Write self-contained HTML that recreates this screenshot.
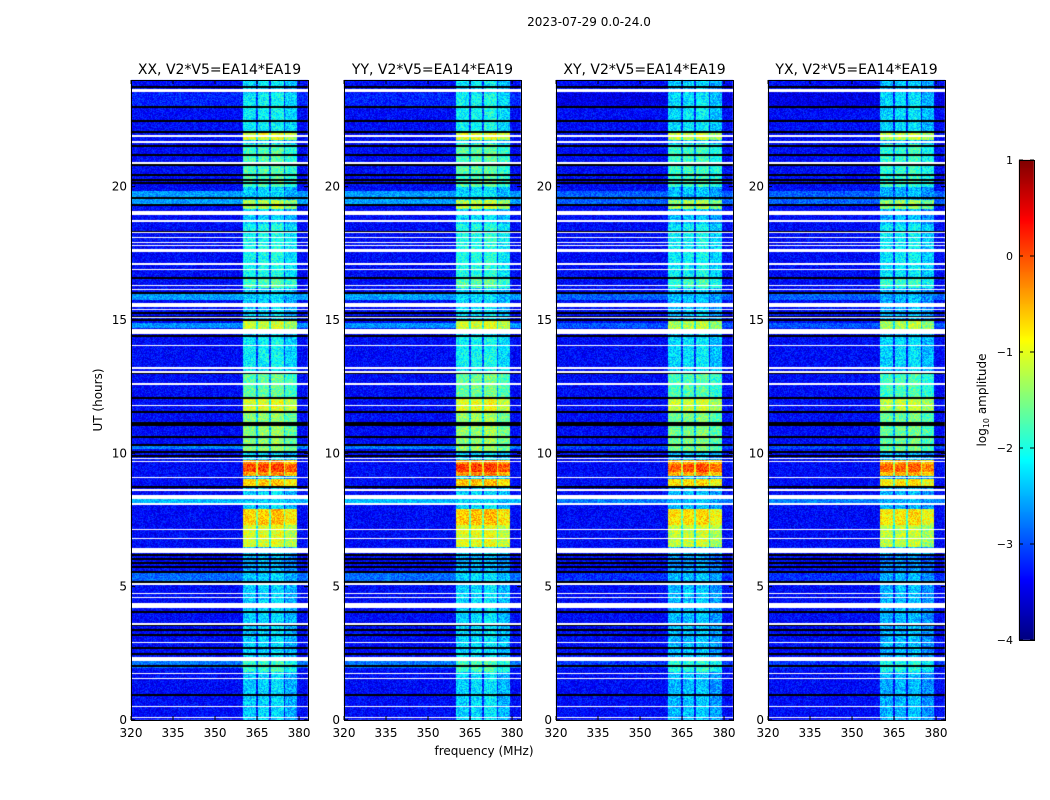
<!DOCTYPE html>
<html><head><meta charset="utf-8">
<style>
body{margin:0;background:#fff;}
#wrap{position:relative;width:1050px;height:800px;background:#fff;font-family:"DejaVu Sans","Liberation Sans",sans-serif;}
canvas,svg{position:absolute;left:0;top:0;}
</style></head>
<body>
<div id="wrap">
<canvas id="cv" width="1050" height="800"></canvas>
<svg id="ov" width="1050" height="800"></svg>
</div>
<script>
// ---- data ----
const panelTitles = ["XX, V2*V5=EA14*EA19","YY, V2*V5=EA14*EA19","XY, V2*V5=EA14*EA19","YX, V2*V5=EA14*EA19"];
const panelBandOffset = [0, 0.05, -0.1, -0.15];
const panelBgStripeOffset = [0, 0, -0.3, -0.3];
const xTicks = [320,335,350,365,380];
const yTicks = [0,5,10,15,20];
const cbTicks = [1,0,-1,-2,-3,-4];
const channels = [[360,364.6],[365.2,369.4],[369.9,374.5],[374.9,379.4]];
const channelGain = [0, 0.05, 0.1, -0.15];
const bgDefault = -3.3;
const bgSegments = [[23.0,23.5,-3.15],[19.3,19.85,-2.55],[15.75,16.0,-2.55],[14.7,14.9,-2.6],[10.15,10.3,-2.7],[8.1,8.3,-2.4],[5.2,5.5,-2.8],[1.95,2.2,-2.75]];
const bandDefault = -2.3;
const bandSegments = [[23.7,24,-2.2],[22.0,23.5,-2.1],[21.75,22.0,-1.0],[20.0,21.6,-1.7],[19.15,19.5,-1.2],[16.3,18.6,-2.0],[16.2,16.6,-1.7],[14.67,15.0,-1.1],[13.1,14.4,-2.1],[12.05,13.0,-1.6],[11.55,12.05,-1.0],[10.0,11.5,-1.4],[9.15,9.75,-0.3],[9.3,9.6,0.1],[8.7,9.05,-0.6],[7.3,7.9,-0.6],[6.5,7.3,-1.0],[5.5,6.2,-2.5],[1.8,2.2,-1.8]];
const whiteGaps = [[23.55,23.65],[21.85,21.95],[21.62,21.7],[20.85,20.92],[18.95,19.1],[18.68,18.74],[18.25,18.3],[18.08,18.12],[17.88,17.93],[17.76,17.81],[17.55,17.65],[17.08,17.13],[16.87,16.92],[16.28,16.33],[16.13,16.18],[15.48,15.65],[15.37,15.42],[15.08,15.13],[14.48,14.67],[14.03,14.08],[13.18,13.23],[13.02,13.07],[12.58,12.63],[11.78,11.83],[9.78,9.83],[9.68,9.73],[9.08,9.13],[8.6,8.68],[8.3,8.45],[8.08,8.13],[7.13,7.18],[6.78,6.83],[6.25,6.45],[5.08,5.13],[4.73,4.78],[4.58,4.63],[4.2,4.4],[3.58,3.63],[2.88,2.93],[2.2,2.38],[1.73,1.78],[1.53,1.58],[0.48,0.53],[0.08,0.13]];
const blackLines = [23.74,22.99,22.46,22.05,21.53,21.19,20.81,20.44,20.25,20.14,19.58,19.31,18.30,16.58,16.01,15.26,15.11,15.0,14.40,13.01,12.08,11.55,11.14,11.06,10.61,10.31,10.05,9.9,8.74,6.19,6.04,5.89,5.74,5.55,5.18,4.05,3.56,3.38,3.19,2.7,2.48,2.03,0.94];

// ---- layout ----
const panelX = [131,344,556,768];
const pW = 177, pTop = 80, pBot = 720;
const fMin = 320, fMax = 383.2, tMax = 24;
const vmin = -4, vmax = 1;
const fx = (i,f) => panelX[i] + (f - fMin) / (fMax - fMin) * pW;
const ty = t => pBot - t / tMax * (pBot - pTop);
const cbX = 1019, cbW = 15, cbTop = 160, cbBot = 640;
const cy = v => cbBot - (v - vmin) / (vmax - vmin) * (cbBot - cbTop);

function jet(v){
  let x = Math.min(1, Math.max(0, (v - vmin) / (vmax - vmin)));
  const c = k => Math.max(0, Math.min(1, 1.5 - Math.abs(4*x - k)));
  return [c(3)*255, c(2)*255, c(1)*255];
}
function segVal(segs, def, t){ let v = def; for (const s of segs) if (t >= s[0] && t < s[1]) v = s[2]; return v; }
function hash(a,b){ let h = (a*374761393 + b*668265263) | 0; h = (h ^ (h >>> 13)) * 1274126177; h = h ^ (h >>> 16); return ((h >>> 0) % 1000) / 1000; }

const cv = document.getElementById('cv');
const ctx = cv.getContext('2d');
ctx.fillStyle = '#fff'; ctx.fillRect(0,0,1050,800);
const img = ctx.getImageData(0,0,1050,800);
const D = img.data;
function setPx(x,y,r,g,b){ const k=(y*1050+x)*4; D[k]=r; D[k+1]=g; D[k+2]=b; D[k+3]=255; }

for (let p = 0; p < 4; p++){
  const x0 = Math.round(panelX[p]);
  for (let y = pTop; y < pBot; y++){
    const t = (pBot - y - 0.5) / (pBot - pTop) * tMax;
    let white = false;
    for (const g of whiteGaps) if (t >= g[0] && t < g[1]) { white = true; break; }
    let black = false;
    for (const b of blackLines) if (Math.abs(ty(b) - (y + 0.5)) < 0.8) { black = true; break; }
    const bgRaw = segVal(bgSegments, bgDefault, t);
    const bg = bgRaw > bgDefault ? bgRaw + panelBgStripeOffset[p] : bgRaw;
    const band = segVal(bandSegments, bandDefault, t) + panelBandOffset[p];
    for (let x = x0; x < x0 + pW; x++){
      if (white) { setPx(x,y,255,255,255); continue; }
      if (black) { setPx(x,y,0,0,0); continue; }
      const f = fMin + (x + 0.5 - panelX[p]) / pW * (fMax - fMin);
      let v = bg;
      let inBand = false;
      if (f >= channels[0][0] && f < channels[3][1]) {
        let inCh = -1;
        channels.forEach((c,ci) => { if (f >= c[0] && f < c[1]) inCh = ci; });
        v = inCh >= 0 ? Math.max(bg, band + channelGain[inCh]) : Math.max(bg, band - 0.9);
        inBand = true;
      }
      const n = hash(x, y);
      v += (n - 0.6) * (inBand ? 0.8 : 0.6);
      const c = jet(v);
      setPx(x,y,c[0],c[1],c[2]);
    }
  }
}
// colorbar
for (let y = cbTop; y < cbBot; y++){
  const v = vmax - (y + 0.5 - cbTop) / (cbBot - cbTop) * (vmax - vmin);
  const c = jet(v);
  for (let x = cbX; x < cbX + cbW; x++) setPx(x,y,c[0],c[1],c[2]);
}
ctx.putImageData(img,0,0);

// ---- overlay ----
const NS = 'http://www.w3.org/2000/svg';
const ov = document.getElementById('ov');
function el(tag, attrs, text){ const e = document.createElementNS(NS, tag); for (const k in attrs) e.setAttribute(k, attrs[k]); if (text !== undefined) e.textContent = text; ov.appendChild(e); return e; }

let e = el('text', {x:589, y:26, 'text-anchor':'middle', 'font-size':12}, '2023-07-29 0.0-24.0');



for (let p = 0; p < 4; p++){
  const x0 = panelX[p];
  e = el('rect', {x:x0+0.5, y:pTop+0.5, width:pW, height:pBot-pTop, fill:'none', stroke:'#000', 'stroke-width':1});
  
  
  e = el('text', {x:x0 + pW/2, y:74, 'text-anchor':'middle', 'font-size':14}, panelTitles[p]);
  
  
  for (const f of xTicks){
    const x = fx(p, f);
    el('line', {x1:x, x2:x, y1:pBot, y2:pBot-4, stroke:'#000'});
    el('line', {x1:x, x2:x, y1:pTop, y2:pTop+4, stroke:'#000'});
    e = el('text', {x:x, y:737, 'text-anchor':'middle', 'font-size':12}, String(f));
    
    
  }
  for (const t of yTicks){
    const y = ty(t);
    el('line', {x1:x0, x2:x0+4, y1:y, y2:y, stroke:'#000'});
    el('line', {x1:x0+pW, x2:x0+pW-4, y1:y, y2:y, stroke:'#000'});
    e = el('text', {x:x0-4, y:y+4, 'text-anchor':'end', 'font-size':12}, String(t));
    
    
  }
}
e = el('text', {x:0, y:0, 'text-anchor':'middle', 'font-size':12, transform:'translate(102,400) rotate(-90)'}, 'UT (hours)');


e = el('text', {x:484, y:755, 'text-anchor':'middle', 'font-size':12}, 'frequency (MHz)');



e = el('rect', {x:cbX+0.5, y:cbTop+0.5, width:cbW, height:cbBot-cbTop, fill:'none', stroke:'#000'});


for (const v of cbTicks){
  const y = cy(v);
  el('line', {x1:cbX, x2:cbX+4, y1:y, y2:y, stroke:'#000'});
  el('line', {x1:cbX+cbW, x2:cbX+cbW-4, y1:y, y2:y, stroke:'#000'});
  e = el('text', {x:1013, y:y+4, 'text-anchor':'end', 'font-size':11}, v < 0 ? '\u2212' + Math.abs(v) : String(v));
  
  
}
e = el('text', {x:0, y:0, 'text-anchor':'middle', 'font-size':12, transform:'translate(986,400) rotate(-90)'});


e.innerHTML = 'log<tspan font-size="8" dy="3">10</tspan><tspan dy="-3"> amplitude</tspan>';
</script>
</body></html>
